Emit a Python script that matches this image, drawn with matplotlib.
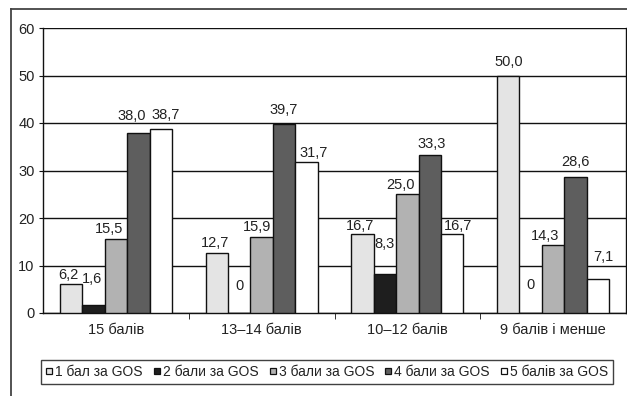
import matplotlib.pyplot as plt
import numpy as np
from matplotlib.lines import Line2D

plt.rcParams['font.family'] = ['Liberation Sans', 'DejaVu Sans']

groups = ['15 балів', '13–14 балів', '10–12 балів', '9 балів і менше']
series = ['1 бал за GOS', '2 бали за GOS', '3 бали за GOS', '4 бали за GOS', '5 балів за GOS']
gos1 = [6.2, 12.7, 16.7, 50.0]
gos2 = [1.6, 0.0, 8.3, 0.0]
gos3 = [15.5, 15.9, 25.0, 14.3]
gos4 = [38.0, 39.7, 33.3, 28.6]
gos5 = [38.7, 31.7, 16.7, 7.1]
values = [gos1, gos2, gos3, gos4, gos5]
colors = ['#e4e4e4', '#1e1e1e', '#b2b2b2', '#5e5e5e', '#ffffff']

# label offsets (dx, dy) in pixels from the bar top, label centre;
# indexed [series][group], hand-tuned so numbers don't collide
offsets = [
    [(-3, 9), (-2, 10), (-2, 8), (0, 13)],
    [(-1, 26), (0, 27), (0, 30), (0, 28)],
    [(-7, 10), (-5, 10), (-7, 9), (-8, 9)],
    [(-7, 17), (0, 14), (2, 11), (0, 15)],
    [(5, 14), (7, 9), (6, 8), (5, 22)],
]

fig = plt.figure(figsize=(6.27, 3.96), dpi=100)
ax = fig.add_axes([43/627, 1-313/396, 583/627, 285/396])

n = len(series)
w = 1.0 / (n + 1.5)
x = np.arange(len(groups))
for i, (vals, c) in enumerate(zip(values, colors)):
    pos = x + (i - (n - 1) / 2) * w
    ax.bar(pos, vals, width=w, color=c, edgecolor='#111111', linewidth=1.0, zorder=3)
    for j, v in enumerate(vals):
        txt = '0' if v == 0 else ('%.1f' % v).replace('.', ',')
        dx, dy = offsets[i][j]
        ax.annotate(txt, (pos[j], v), xytext=(dx * 0.72, dy * 0.72), textcoords='offset points',
                    ha='center', va='center', fontsize=10.5, color='#222222', zorder=4)

ax.set_xlim(-0.5, len(groups) - 0.5)
ax.set_ylim(0, 60)
ax.set_yticks(np.arange(0, 61, 10))
ax.yaxis.grid(True, color='#111111', linewidth=1.0, zorder=0)
ax.set_axisbelow(True)
ax.set_xticks(x)
ax.set_xticklabels(groups)
ax.set_xticks(np.arange(0.5, len(groups) - 1, 1), minor=True)
ax.tick_params(axis='x', which='major', length=0, pad=7, labelsize=10.5, colors='#222222')
ax.tick_params(axis='x', which='minor', length=4, direction='out', color='#111111')
ax.tick_params(axis='y', length=3, direction='out', pad=3, labelsize=10.5, colors='#222222')
ax.tick_params(axis='y', color='#111111')
ax.spines['top'].set_visible(False)
for s in ['left', 'bottom', 'right']:
    ax.spines[s].set_color('#111111')
    ax.spines[s].set_linewidth(1.0)

# outer frame around the chart
fig.add_artist(Line2D([11/627, 1.0], [1-9/396, 1-9/396], color='#444444', lw=1.3,
                      transform=fig.transFigure))
fig.add_artist(Line2D([11/627, 11/627], [1-9/396, 0.0], color='#444444', lw=1.3,
                      transform=fig.transFigure))

handles = [Line2D([], [], marker='s', ls='none', markersize=5, markerfacecolor=c,
                  markeredgecolor='#111111', markeredgewidth=0.9) for c in colors]
leg = fig.legend(handles, series, loc='center', bbox_to_anchor=(327/627, 1-372/396),
                 ncol=5, fontsize=10, frameon=True, fancybox=False, handlelength=0.5,
                 handletextpad=0.2, columnspacing=0.75, borderpad=0.35, borderaxespad=0)
leg.get_frame().set_edgecolor('#111111')
leg.get_frame().set_linewidth(1.0)
for t in leg.get_texts():
    t.set_color('#222222')

fig.savefig('out.png', dpi=100)
